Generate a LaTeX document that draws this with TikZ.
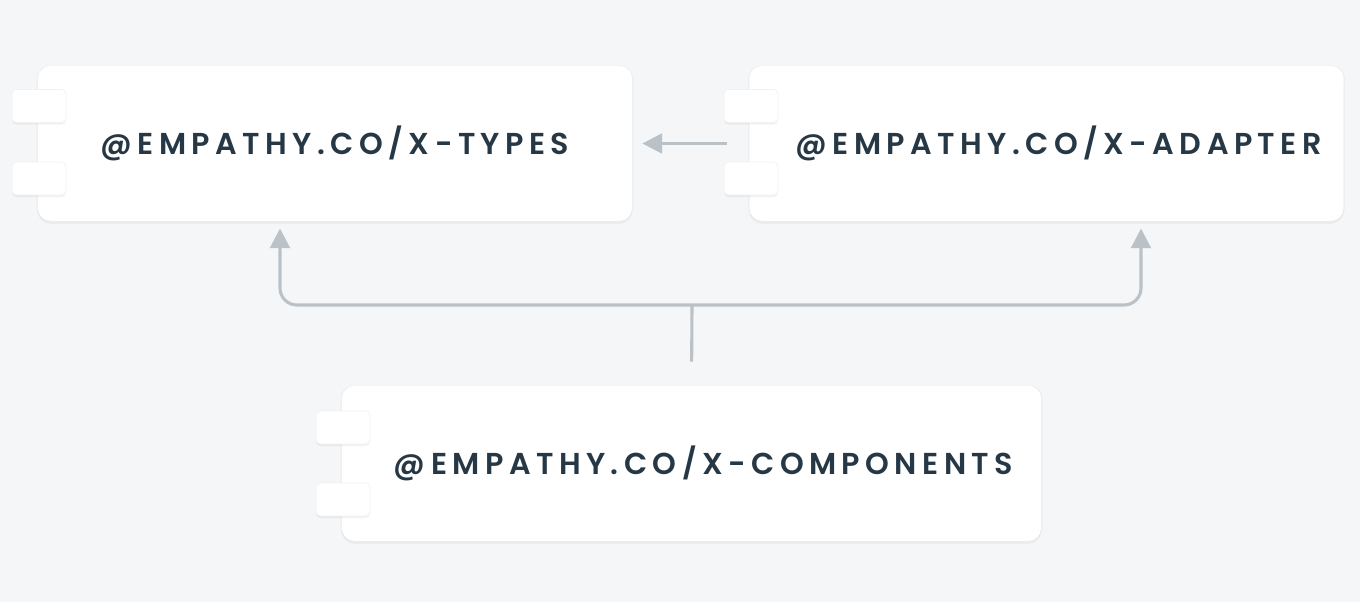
\documentclass[tikz,border=0pt]{standalone}
\usepackage{fontspec}
\setmainfont{Poppins}[BoldFont={Poppins SemiBold}]
\definecolor{PageBg}{HTML}{F4F6F8}
\definecolor{BoxText}{HTML}{263845}
\definecolor{LinkGrey}{HTML}{BAC2C8}
\usetikzlibrary{
  positioning,
  arrows.meta,
  shadows
}

\begin{document}
\begin{tikzpicture}[
  x=0.025cm, y=-0.025cm,
  pkg/.style    = {rounded corners=9pt, fill=white, inner sep=0pt,
                   minimum height=3.875cm, align=center,
                   font=\fontsize{21.5}{24}\selectfont\bfseries\addfontfeature{LetterSpace=18},
                   text=BoxText,
                   drop shadow={shadow xshift=0pt, shadow yshift=-2pt,
                                fill=black, opacity=0.04},
                   general shadow={shadow scale=1.004, fill=black, opacity=0.03}},
  tab/.style    = {rounded corners=3pt, fill=white, inner sep=0pt,
                   draw=black!5, line width=0.5pt,
                   minimum width=1.35cm, minimum height=0.82cm,
                   drop shadow={shadow xshift=0pt, shadow yshift=-1.5pt,
                                fill=black, opacity=0.05}},
  link/.style   = {-{Triangle[length=14pt, width=14pt]}, line width=2.2pt,
                   color=LinkGrey, rounded corners=12pt}
]
  % background
  \fill[PageBg] (0,0) rectangle (1360,602);
  \useasboundingbox (0,0) rectangle (1360,602);

  % Packages, top row
  \node[pkg, minimum width=14.85cm] (types) at (335,143.5) {@EMPATHY.CO/X-TYPES};
  \node[pkg, minimum width=14.85cm] (adapter) at (1046.5,143.5) {\hspace*{0.6cm}@EMPATHY.CO/X-ADAPTER};

  % Package, bottom row
  \node[pkg, minimum width=17.475cm] (components) at (691.5,463.5) {\hspace*{0.6cm}@EMPATHY.CO/X-COMPONENTS};

  % Tabs on the left edge of each package
  \node[tab] (typesTabA) at (39,106) {};
  \node[tab] (typesTabB) at (39,178.5) {};
  \node[tab] (adapterTabA) at (751,106) {};
  \node[tab] (adapterTabB) at (751,178.5) {};
  \node[tab] (componentsTabA) at (343,427.5) {};
  \node[tab] (componentsTabB) at (343,499.5) {};

  % Dependencies
  \draw[link, shorten <=0.55cm, shorten >=0.25cm] (adapter.west) -- (types.east);

  \coordinate (fork) at (692,305);
  \draw[line width=2.2pt, color=LinkGrey, shorten <=0.6cm] (components.north) -- (fork);
  \draw[link, shorten >=0.18cm] (fork) -- (280,305) -- (types.south -| 280,0);
  \draw[link, shorten >=0.18cm] (fork) -- (1141,305) -- (adapter.south -| 1141,0);

\end{tikzpicture}
\end{document}
